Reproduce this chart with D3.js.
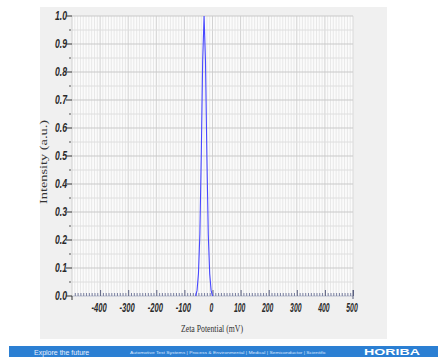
<!DOCTYPE html>
<html>
<head>
<meta charset="utf-8">
<script src="https://cdn.jsdelivr.net/npm/d3@7"></script>
<style>
  html, body { margin: 0; padding: 0; background: #ffffff; }
  svg { display: block; }
  .tick-label { font-family: "Liberation Sans", Arial, sans-serif; font-weight: bold; font-style: italic; font-size: 12px; fill: #2a2a2a; }
  .axis-title { font-family: "Liberation Serif", "DejaVu Serif", serif; font-size: 10px; fill: #333; }
</style>
</head>
<body>
<svg id="chart" width="438" height="357"></svg>
<script>
// Zeta potential distribution (mV) and normalised intensity
const zeta = [-60, -55, -50, -45, -40, -35, -30, -25, -20, -15, -10, -5, 0];
const intensity = [0.0, 0.02, 0.08, 0.22, 0.50, 0.84, 1.0, 0.84, 0.50, 0.22, 0.08, 0.02, 0.0];

const xTickValues = [-400, -300, -200, -100, 0, 100, 200, 300, 400, 500];
const yTickValues = [0.0, 0.1, 0.2, 0.3, 0.4, 0.5, 0.6, 0.7, 0.8, 0.9, 1.0];

const svg = d3.select("#chart");

// panel background
svg.append("rect").attr("x", 40).attr("y", 7).attr("width", 347).attr("height", 332).attr("fill", "#f0f0f0");

const x = d3.scaleLinear().domain([-500, 500]).range([72, 353]);
const y = d3.scaleLinear().domain([0, 1]).range([296, 16]);

// plot area
svg.append("rect").attr("x", x(-500)).attr("y", y(1)).attr("width", x(500) - x(-500)).attr("height", y(0) - y(1)).attr("fill", "#fbfbfb");

const grid = svg.append("g");
// vertical grid: every 10 mV, darker every 100
d3.range(-490, 500, 10).forEach(v => {
  const major = v % 100 === 0;
  grid.append("line")
    .attr("x1", x(v)).attr("x2", x(v)).attr("y1", y(0)).attr("y2", y(1))
    .attr("stroke", major ? "#d2d2d2" : "#e8e8e8").attr("stroke-width", 1);
});
grid.append("line").attr("x1", x(500)).attr("x2", x(500)).attr("y1", y(0)).attr("y2", y(1)).attr("stroke", "#d8d8d8");
// horizontal grid: every 0.05, darker every 0.1
d3.range(1, 21).forEach(i => {
  const v = i * 0.05;
  const major = i % 2 === 0;
  grid.append("line")
    .attr("x1", x(-500)).attr("x2", x(500)).attr("y1", y(v)).attr("y2", y(v))
    .attr("stroke", major ? "#c9c9c9" : "#dedede").attr("stroke-width", 1);
});

// x axis: major ticks every 100, minor every 10, pointing up
const xAxisG = svg.append("g").attr("transform", `translate(0,${y(0)})`);
xAxisG.append("line").attr("x1", x(-500)).attr("x2", x(500)).attr("y1", 0).attr("y2", 0).attr("stroke", "#b8bccc");
xAxisG.call(d3.axisTop(x).tickValues(d3.range(-490, 500, 10).filter(v => v % 100 !== 0)).tickSize(3).tickFormat(""))
  .call(g => g.select(".domain").remove())
  .call(g => g.selectAll(".tick line").attr("stroke", "#7a80a0"));
const xMajor = svg.append("g").attr("transform", `translate(0,${y(0)})`);
xMajor.call(d3.axisTop(x).tickValues(xTickValues).tickSize(6).tickFormat(""))
  .call(g => g.select(".domain").remove())
  .call(g => g.selectAll(".tick line").attr("stroke", "#5a6080"));
// small drop at the origin corner and right end
svg.append("line").attr("x1", x(-500)).attr("x2", x(-500)).attr("y1", y(0)).attr("y2", y(0) + 4).attr("stroke", "#333");
svg.append("line").attr("x1", x(500)).attr("x2", x(500)).attr("y1", y(0) - 6).attr("y2", y(0) + 3).attr("stroke", "#5a6080");

// condensed tick labels
const labelWidth = s => s.length * 3.8;
svg.append("g").selectAll("text").data(xTickValues).join("text")
  .attr("class", "tick-label")
  .attr("x", d => x(d) - 1).attr("y", y(0) + 16)
  .attr("text-anchor", "middle")
  .attr("textLength", d => labelWidth(String(d))).attr("lengthAdjust", "spacingAndGlyphs")
  .text(d => String(d));

// y axis
const yAxisG = svg.append("g").attr("transform", `translate(${x(-500)},0)`);
yAxisG.append("line").attr("x1", 0).attr("x2", 0).attr("y1", y(0)).attr("y2", y(1)).attr("stroke", "#d0d0d0");
yAxisG.selectAll("line.major").data(yTickValues).join("line")
  .attr("class", "major").attr("x1", -6).attr("x2", 0).attr("y1", d => y(d)).attr("y2", d => y(d)).attr("stroke", "#333");
yAxisG.selectAll("line.minor").data(yTickValues.slice(0, -1).map(v => v + 0.05)).join("line")
  .attr("class", "minor").attr("x1", -3).attr("x2", -1).attr("y1", d => y(d)).attr("y2", d => y(d)).attr("stroke", "#555");
yAxisG.selectAll("text").data(yTickValues).join("text")
  .attr("class", "tick-label")
  .attr("x", -5).attr("y", d => y(d) + 4)
  .attr("text-anchor", "end")
  .attr("textLength", 12).attr("lengthAdjust", "spacingAndGlyphs")
  .text(d => d3.format(".1f")(d));

// distribution curve
const pts = zeta.map((z, i) => [z, intensity[i]]);
svg.append("path").datum(pts)
  .attr("fill", "none").attr("stroke", "#4848ff").attr("stroke-width", 1.1)
  .attr("d", d3.line().x(d => x(d[0])).y(d => y(d[1])));

// axis titles
svg.append("text").attr("class", "axis-title")
  .attr("x", 212).attr("y", 332).attr("text-anchor", "middle")
  .attr("textLength", 62).attr("lengthAdjust", "spacingAndGlyphs")
  .text("Zeta Potential (mV)");
svg.append("text").attr("class", "axis-title")
  .attr("transform", "translate(47,162) rotate(-90)").attr("text-anchor", "middle")
  .attr("textLength", 84).attr("lengthAdjust", "spacingAndGlyphs")
  .text("Intensity (a.u.)");

// footer band
svg.append("rect").attr("x", 9).attr("y", 346).attr("width", 429).attr("height", 11).attr("fill", "#2b7fd3");
svg.append("text").attr("x", 34).attr("y", 354.5)
  .attr("font-family", "Liberation Sans, Arial, sans-serif").attr("font-size", 7).attr("fill", "#e8f0ff")
  .text("Explore the future");
svg.append("text").attr("x", 130).attr("y", 354)
  .attr("font-family", "Liberation Sans, Arial, sans-serif").attr("font-size", 3.6).attr("fill", "#dde8ff")
  .attr("textLength", 196).attr("lengthAdjust", "spacingAndGlyphs")
  .text("Automotive Test Systems  |  Process & Environmental  |  Medical  |  Semiconductor  |  Scientific");
svg.append("text").attr("x", 364).attr("y", 355)
  .attr("font-family", "Liberation Sans, Arial, sans-serif").attr("font-weight", "bold").attr("font-size", 9).attr("fill", "#ffffff")
  .attr("textLength", 56).attr("lengthAdjust", "spacingAndGlyphs")
  .text("HORIBA");
</script>
</body>
</html>
